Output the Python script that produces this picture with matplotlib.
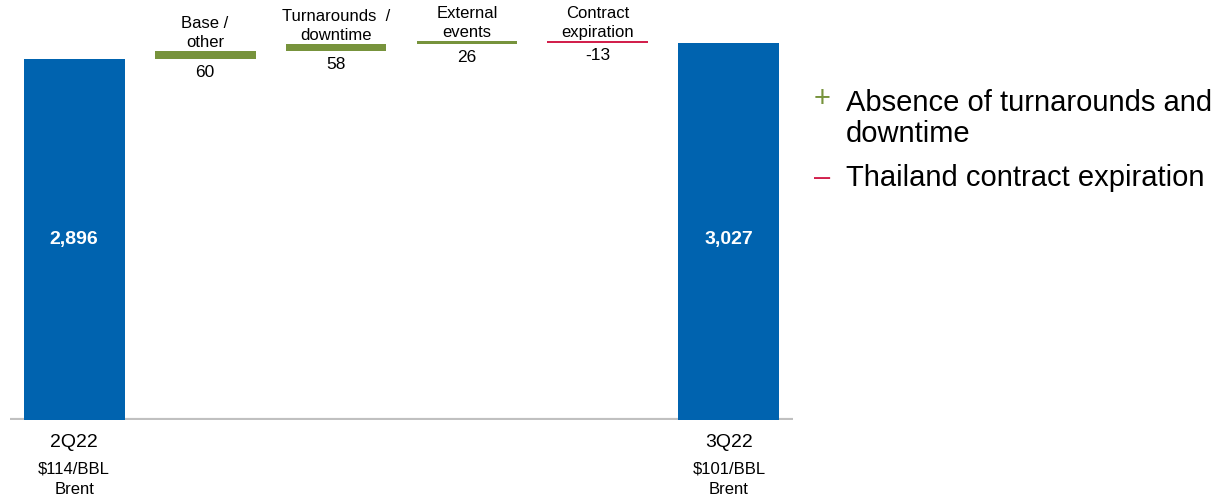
import matplotlib.pyplot as plt

plt.rcParams['font.family'] = ['Liberation Sans', 'DejaVu Sans']

# data
categories = ['2Q22', 'Base /\nother', 'Turnarounds  /\ndowntime', 'External\nevents',
              'Contract\nexpiration', '3Q22']
start_value = 2896
deltas = [60, 58, 26, -13]
end_value = 3027
sub_labels = ['$114/BBL\nBrent', '$101/BBL\nBrent']
notes = [('+', 'Absence of turnarounds and\ndowntime'), ('\u2013', 'Thailand contract expiration')]

BLUE = '#0063AF'
GREEN = '#77933C'
RED = '#D2204C'

fig = plt.figure(figsize=(12.22, 5.03), dpi=100)
ax = fig.add_axes([0, 0.165, 1.0, 0.835])
# axes spans full figure width; shift via xlim so bars land in place
left_px, right_px = 10, 793
span = 5.98 / (right_px - left_px)
ax.set_xlim(-0.49 - left_px * span, 5.49 + (1222 - right_px) * span)
ax.set_ylim(0, 3369)
for s in ax.spines.values():
    s.set_visible(False)
ax.set_xticks([])
ax.set_yticks([])
ax.plot([-0.49, 5.49], [0, 0], color='#C0C0C0', lw=3, solid_capstyle='butt', zorder=1)

width = 0.77
# totals
for x, v in [(0, start_value), (5, end_value)]:
    ax.bar(x, v, width=width, color=BLUE, zorder=2)
    ax.text(x, 1450, f'{v:,}', color='white', fontsize=14, fontweight='bold',
            ha='center', va='center')

# step bars
level = start_value
for i, d in enumerate(deltas):
    x = i + 1
    lo, hi = min(level, level + d), max(level, level + d)
    ax.bar(x, hi - lo, bottom=lo, width=width, color=GREEN if d > 0 else RED, zorder=2)
    ax.annotate(categories[x], (x, hi), xytext=(0, 1), textcoords='offset points',
                ha='center', va='bottom', fontsize=12, linespacing=1.3)
    ax.annotate(str(d), (x, lo), xytext=(0, -4), textcoords='offset points',
                ha='center', va='top', fontsize=12.5)
    level += d

# bottom labels
for x, name, sub in [(0, categories[0], sub_labels[0]), (5, categories[5], sub_labels[1])]:
    ax.annotate(name, (x, 0), xytext=(0, -10), textcoords='offset points',
                ha='center', va='top', fontsize=14)
    ax.annotate(sub, (x, 0), xytext=(0, -30), textcoords='offset points',
                ha='center', va='top', fontsize=12, linespacing=1.45)

# side notes
fig.text(822 / 1222, 1 - 99 / 503, notes[0][0], color=GREEN, fontsize=21, ha='center', va='center')
fig.text(846 / 1222, 1 - 89 / 503, notes[0][1], fontsize=21, ha='left', va='top', linespacing=1.15)
fig.text(822 / 1222, 1 - 178 / 503, notes[1][0], color=RED, fontsize=21, ha='center', va='center')
fig.text(846 / 1222, 1 - 178 / 503, notes[1][1], fontsize=21, ha='left', va='center')

fig.savefig('out.png', dpi=100)
